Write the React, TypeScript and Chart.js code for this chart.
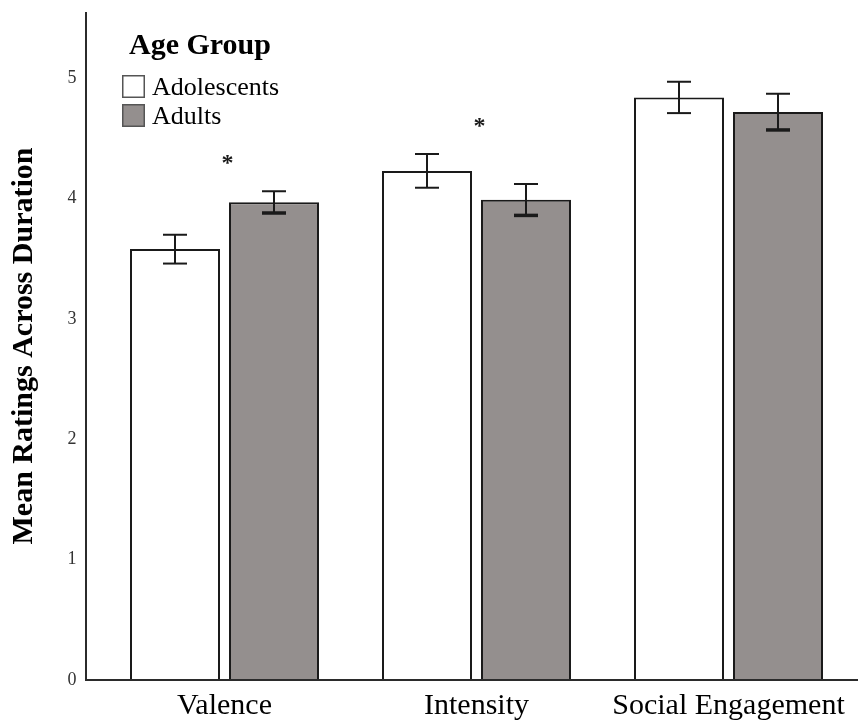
import React, { useEffect, useRef } from "react";
import { Chart, registerables } from "chart.js";

Chart.register(...registerables);

// Rating dimensions on the x axis
const categories = ["Valence", "Intensity", "Social Engagement"];

// Group means and standard errors
const adolescentMeans = [3.58, 4.23, 4.84];
const adolescentErrors = [0.12, 0.14, 0.13];
const adultMeans = [3.97, 3.99, 4.72];
const adultErrors = [0.09, 0.13, 0.15];

// Significant group difference per dimension
const significant = [true, true, false];

const seriesNames = ["Adolescents", "Adults"];
const legendTitle = "Age Group";
const yTitle = "Mean Ratings Across Duration";
const yTicks = [0, 1, 2, 3, 4, 5];

const SERIF = "'Liberation Serif', 'Times New Roman', serif";
const ADULT_FILL = "#948f8e";
const INK = "#1a1a1a";

const errorsByDataset = [adolescentErrors, adultErrors];

const decorPlugin = {
  id: "decor",
  afterDatasetsDraw(chart: any) {
    const { ctx, chartArea, scales } = chart;
    const y = scales.y;
    ctx.save();

    // axis lines
    ctx.strokeStyle = "#2b2b2b";
    ctx.lineWidth = 2;
    const axisX = chartArea.left - 12.5;
    ctx.beginPath();
    ctx.moveTo(axisX, chartArea.top);
    ctx.lineTo(axisX, chartArea.bottom);
    ctx.lineTo(chart.width, chartArea.bottom);
    ctx.stroke();

    // error bars
    ctx.strokeStyle = INK;
    chart.data.datasets.forEach((ds: any, di: number) => {
      const meta = chart.getDatasetMeta(di);
      meta.data.forEach((bar: any, i: number) => {
        const m = ds.data[i];
        const e = errorsByDataset[di][i];
        const top = y.getPixelForValue(m + e);
        const bot = y.getPixelForValue(m - e);
        const cx = bar.x;
        ctx.lineWidth = 2;
        ctx.beginPath();
        ctx.moveTo(cx, top);
        ctx.lineTo(cx, bot);
        ctx.moveTo(cx - 12, top);
        ctx.lineTo(cx + 12, top);
        ctx.stroke();
        ctx.lineWidth = di === 1 ? 3.5 : 2;
        ctx.beginPath();
        ctx.moveTo(cx - 12, bot);
        ctx.lineTo(cx + 12, bot);
        ctx.stroke();
      });
    });

    // significance markers
    ctx.fillStyle = INK;
    ctx.font = `bold 24px ${SERIF}`;
    ctx.textAlign = "center";
    ctx.textBaseline = "middle";
    categories.forEach((_, i) => {
      if (!significant[i]) return;
      const peak = Math.max(
        adolescentMeans[i] + adolescentErrors[i],
        adultMeans[i] + adultErrors[i]
      );
      const cx = scales.x.getPixelForValue(i);
      ctx.fillText("*", cx + 3, y.getPixelForValue(peak + 0.26) + 4);
    });

    // legend
    ctx.textAlign = "left";
    ctx.textBaseline = "alphabetic";
    ctx.fillStyle = "#000";
    ctx.font = `bold 30px ${SERIF}`;
    ctx.fillText(legendTitle, 129, 54);
    const fills = ["#ffffff", ADULT_FILL];
    seriesNames.forEach((name, i) => {
      const by = 75 + i * 29;
      ctx.fillStyle = fills[i];
      ctx.fillRect(122, by, 23, 23);
      ctx.strokeStyle = "#555555";
      ctx.lineWidth = 1.5;
      ctx.strokeRect(122.75, by + 0.75, 21.5, 21.5);
      ctx.fillStyle = "#000";
      ctx.font = `26px ${SERIF}`;
      ctx.fillText(name, 152, by + 20);
    });

    ctx.restore();
  },
};

export default function App() {
  const canvasRef = useRef<HTMLCanvasElement | null>(null);

  useEffect(() => {
    document.body.style.margin = "0";
    const canvas = canvasRef.current;
    if (!canvas) return;
    const chart = new Chart(canvas, {
      type: "bar",
      data: {
        labels: categories,
        datasets: [
          {
            label: seriesNames[0],
            data: adolescentMeans,
            backgroundColor: "#ffffff",
            borderColor: INK,
            borderWidth: 2,
            categoryPercentage: 0.7857,
            barPercentage: 0.909,
          },
          {
            label: seriesNames[1],
            data: adultMeans,
            backgroundColor: ADULT_FILL,
            borderColor: INK,
            borderWidth: 2,
            categoryPercentage: 0.7857,
            barPercentage: 0.909,
          },
        ],
      },
      options: {
        responsive: false,
        animation: false,
        layout: { padding: { top: 12, right: 3.5, bottom: 0, left: 0 } },
        plugins: {
          legend: { display: false },
          tooltip: { enabled: false },
        },
        scales: {
          x: {
            type: "category",
            grid: { display: false, drawTicks: false },
            border: { display: false },
            ticks: {
              color: "#000",
              font: { family: SERIF, size: 30 },
              padding: 8,
            },
            afterFit(scale: any) {
              scale.height = 43;
              scale.paddingLeft = 0;
              scale.paddingRight = 0;
            },
          },
          y: {
            min: 0,
            max: 5.55,
            grid: { display: false, drawTicks: false },
            border: { display: false },
            afterBuildTicks(scale: any) {
              scale.ticks = yTicks.map((v) => ({ value: v }));
            },
            ticks: {
              color: "#333",
              font: { family: SERIF, size: 18 },
              padding: 22,
            },
            title: {
              display: true,
              text: yTitle,
              color: "#000",
              font: { family: SERIF, size: 30, weight: "bold" },
              padding: { top: 6, bottom: 0 },
            },
            afterFit(scale: any) {
              scale.width = 98.5;
              scale.paddingTop = 0;
              scale.paddingBottom = 0;
            },
          },
        },
      },
      plugins: [decorPlugin],
    });
    return () => chart.destroy();
  }, []);

  return (
    <div style={{ width: 858, height: 723 }}>
      <canvas ref={canvasRef} width={858} height={723} style={{ display: "block" }} />
    </div>
  );
}
